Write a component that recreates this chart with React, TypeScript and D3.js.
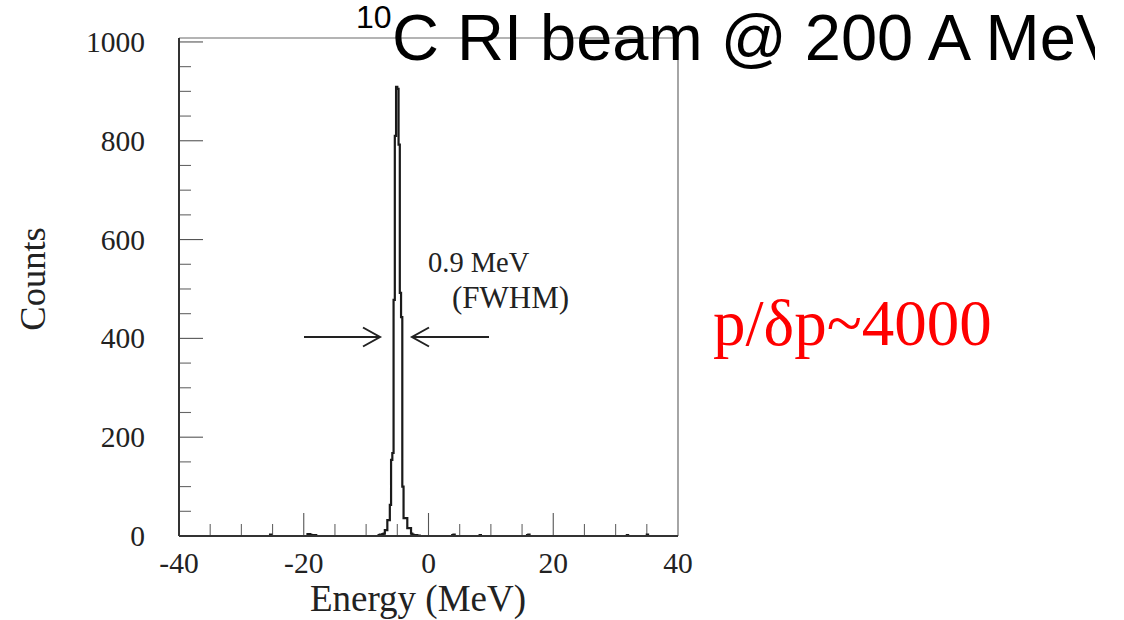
import React from "react";
import * as d3 from "d3";

// ---- data ----
const xTickLabels = [-40, -20, 0, 20, 40];
const yTickLabels = [0, 200, 400, 600, 800, 1000];
// histogram bins (0.2 MeV wide), lower edges and counts (non-zero bins only)
const binStarts = [
  -25.4, -19.4, -19.2, -19.0, -18.6, -18.2, -8.0, -7.8, -7.6, -7.4, -7.2,
  -7.0, -6.8, -6.6, -6.4, -6.2, -6.0, -5.8, -5.6, -5.4, -5.2, -5.0, -4.8,
  -4.6, -4.4, -4.2, -4.0, -3.8, -3.6, -3.4, -3.2, -3.0, -2.8, -2.6, -2.4,
  -2.0, -1.6, 3.8, 4.0, 8.2, 15.8, 16.0, 31.8, 35.0,
];
const binCounts = [
  3, 4, 4, 3, 2, 2, 2, 3, 3, 4, 5,
  12, 12, 32, 32, 63, 154, 168, 478, 810, 909, 905, 792,
  492, 443, 100, 36, 36, 36, 16, 16, 16, 5, 3, 2,
  2, 1, 2, 3, 2, 2, 3, 2, 3,
];
const xLabel = "Energy (MeV)";
const yLabel = "Counts";
const annotLine1 = "0.9 MeV";
const annotLine2 = "(FWHM)";
const resolutionText = "p/\u03b4p~4000";

const BIN_W = 0.2;
const X_MIN = -40;
const X_MAX = 40;

export default function App() {
  const W = 1124;
  const H = 620;
  const left = 179;
  const right = 678;
  const top = 38;
  const bottom = 536;

  const x = d3.scaleLinear().domain([X_MIN, X_MAX]).range([left, right]);
  const y = d3.scaleLinear().domain([0, 1008]).range([bottom, top]);

  const nBins = Math.round((X_MAX - X_MIN) / BIN_W);
  const counts = new Array(nBins).fill(0);
  binStarts.forEach((s, i) => {
    const idx = Math.round((s - X_MIN) / BIN_W);
    if (idx >= 0 && idx < nBins) counts[idx] = binCounts[i];
  });
  const pts: [number, number][] = [[X_MIN, 0]];
  counts.forEach((c, i) => pts.push([X_MIN + i * BIN_W, c]));
  pts.push([X_MAX, counts[nBins - 1]]);
  pts.push([X_MAX, 0]);
  const line = d3
    .line<[number, number]>()
    .x((d) => x(d[0]))
    .y((d) => y(d[1]))
    .curve(d3.curveStepAfter);
  const histPath = line(pts) || "";

  const xMinor = d3.range(-35, 40, 5).filter((v) => v % 20 !== 0);
  const xMajor = [-20, 0, 20];
  const yMinor = d3.range(50, 1001, 50).filter((v) => v % 200 !== 0);
  const yMajor = [200, 400, 600, 800, 1000];

  const serif = "'Liberation Serif', 'Times New Roman', serif";
  const sans = "'Liberation Sans', Arial, sans-serif";
  const tickFs = 29.5;

  const arrowY = 337;
  const lArrow = { x1: 304, x2: 380 };
  const rArrow = { x1: 489, x2: 412 };

  return (
    <svg
      width={W}
      height={H}
      viewBox={`0 0 ${W} ${H}`}
      style={{ position: "absolute", left: 0, top: 0, background: "#fff", display: "block" }}
    >
      <defs>
        <clipPath id="titleClip">
          <rect x={0} y={0} width={1095} height={100} />
        </clipPath>
      </defs>
      <rect x={0} y={0} width={W} height={H} fill="#fff" />

      {/* frame top / right */}
      <line x1={left} y1={top} x2={right} y2={top} stroke="#6a6a6a" strokeWidth={1.2} />
      <line x1={right} y1={top} x2={right} y2={bottom} stroke="#6a6a6a" strokeWidth={1.2} />

      {/* ticks */}
      {xMinor.map((v) => (
        <line key={"xm" + v} x1={x(v)} x2={x(v)} y1={bottom} y2={bottom - 12} stroke="#666" strokeWidth={1.1} />
      ))}
      {xMajor.map((v) => (
        <line key={"xM" + v} x1={x(v)} x2={x(v)} y1={bottom} y2={bottom - 23} stroke="#555" strokeWidth={1.1} />
      ))}
      {yMinor.map((v) => (
        <line key={"ym" + v} x1={left} x2={left + 12} y1={y(v)} y2={y(v)} stroke="#666" strokeWidth={1.1} />
      ))}
      {yMajor.map((v) => (
        <line key={"yM" + v} x1={left} x2={left + 24} y1={y(v)} y2={y(v)} stroke="#555" strokeWidth={1.1} />
      ))}

      {/* histogram */}
      <path d={histPath} fill="none" stroke="#1a1a1a" strokeWidth={2.2} strokeLinejoin="miter" />

      {/* axes */}
      <line x1={left} y1={bottom} x2={right} y2={bottom} stroke="#333" strokeWidth={2} />
      <line x1={left} y1={top} x2={left} y2={bottom} stroke="#333" strokeWidth={2} />

      {/* tick labels */}
      {xTickLabels.map((v) => (
        <text key={"xl" + v} x={x(v)} y={573} fontFamily={serif} fontSize={tickFs} textAnchor="middle" fill="#222">
          {v < 0 ? "-" + Math.abs(v) : String(v)}
        </text>
      ))}
      {yTickLabels.map((v) => (
        <text key={"yl" + v} x={145} y={y(v) + 10} fontFamily={serif} fontSize={tickFs} textAnchor="end" fill="#222">
          {v}
        </text>
      ))}

      {/* axis titles */}
      <text x={418} y={611} fontFamily={serif} fontSize={37} textAnchor="middle" fill="#222">
        {xLabel}
      </text>
      <text
        transform={`translate(45, 279) rotate(-90)`}
        fontFamily={serif}
        fontSize={36.5}
        textAnchor="middle"
        fill="#222"
      >
        {yLabel}
      </text>

      {/* annotation */}
      <text x={428} y={272} fontFamily={serif} fontSize={28.5} fill="#222">
        {annotLine1}
      </text>
      <text x={452} y={308} fontFamily={serif} fontSize={31} fill="#222">
        {annotLine2}
      </text>
      <g stroke="#222" strokeWidth={2} fill="none">
        <line x1={lArrow.x1} y1={arrowY} x2={lArrow.x2} y2={arrowY} />
        <polyline points={`${lArrow.x2 - 17},${arrowY - 9.5} ${lArrow.x2},${arrowY} ${lArrow.x2 - 17},${arrowY + 9.5}`} />
        <line x1={rArrow.x1} y1={arrowY} x2={rArrow.x2} y2={arrowY} />
        <polyline points={`${rArrow.x2 + 17},${arrowY - 9.5} ${rArrow.x2},${arrowY} ${rArrow.x2 + 17},${arrowY + 9.5}`} />
      </g>

      {/* resolution */}
      <text x={713} y={345} fontFamily={serif} fontSize={65} fill="#ff0000">
        {resolutionText}
      </text>

      {/* title */}
      <g clipPath="url(#titleClip)">
        <text x={356} y={28} fontFamily={sans} fontSize={32} fill="#000">
          10
        </text>
        <text x={392} y={60} fontFamily={sans} fontSize={65} fill="#000">
          C RI beam @ 200 A MeV
        </text>
      </g>
    </svg>
  );
}
